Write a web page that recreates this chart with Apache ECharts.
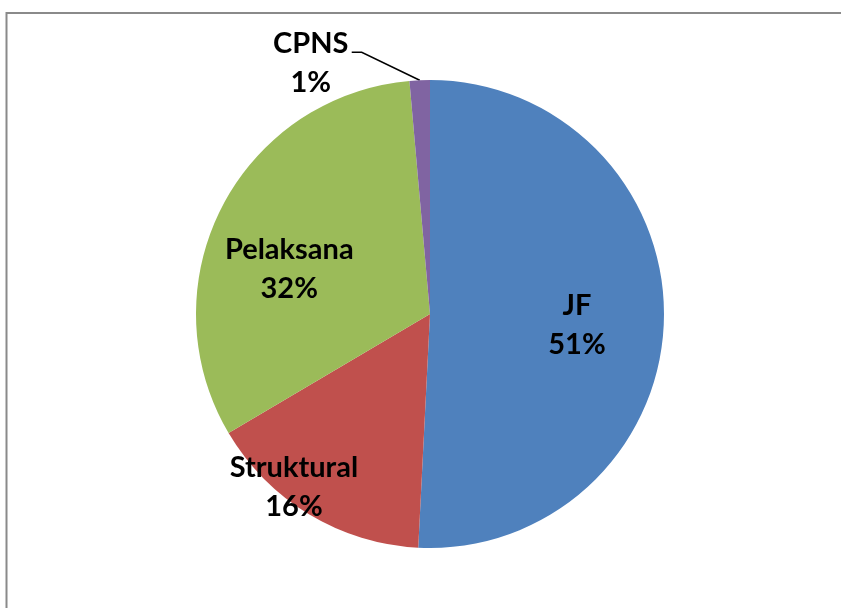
<!DOCTYPE html>
<html>
<head>
<meta charset="utf-8">
<script src="https://cdn.jsdelivr.net/npm/echarts@6/dist/echarts.min.js"></script>
<style>
  html, body { margin: 0; padding: 0; background: #fff; }
  #chart { width: 841px; height: 608px; }
</style>
</head>
<body>
<div id="chart"></div>
<script>
  // categories and values (shares in per mille)
  var categories = ['JF', 'Struktural', 'Pelaksana', 'CPNS'];
  var values = [508, 157, 321, 14];
  var colors = ['#4F81BD', '#C0504D', '#9BBB59', '#8064A2'];

  // nudges of the inside labels from their default spot (px)
  var labelShift = [[27, 8], [-74, 70], [-34, 10], null];

  var chart = echarts.init(document.getElementById('chart'));

  var pieData = categories.map(function (name, i) {
    var item = { name: name, value: values[i], itemStyle: { color: colors[i] } };
    if (i === 3) {
      item.label = { position: 'outside' };
      item.labelLine = { show: true, lineStyle: { color: '#000', width: 1.5 } };
    }
    return item;
  });

  chart.setOption({
    animation: false,
    graphic: [{
      type: 'polyline',
      shape: { points: [[6.5, 608], [6.5, 13], [841, 13]] },
      style: { stroke: '#8a8a8a', lineWidth: 2, fill: null }
    }],
    series: [{
      type: 'pie',
      center: [430, 314],
      radius: 234,
      startAngle: 90,
      clockwise: true,
      avoidLabelOverlap: false,
      data: pieData,
      label: {
        show: true,
        position: 'inside',
        formatter: function (p) { return p.name + '\n' + Math.round(p.percent) + '%'; },
        fontFamily: 'Lato',
        fontWeight: 'bold',
        fontSize: 29,
        lineHeight: 39,
        color: '#000',
        align: 'center'
      },
      labelLine: { show: false },
      emphasis: { disabled: true },
      labelLayout: function (params) {
        var i = params.dataIndex;
        if (labelShift[i]) {
          return { dx: labelShift[i][0], dy: labelShift[i][1] };
        }
        var p0 = params.labelLinePoints ? params.labelLinePoints[0] : [420, 80];
        return {
          x: p0[0] - 109,
          y: p0[1] - 17,
          align: 'center',
          verticalAlign: 'middle',
          labelLinePoints: [p0, [p0[0] - 58, p0[1] - 28], [p0[0] - 68, p0[1] - 28]]
        };
      }
    }]
  });
</script>
</body>
</html>
